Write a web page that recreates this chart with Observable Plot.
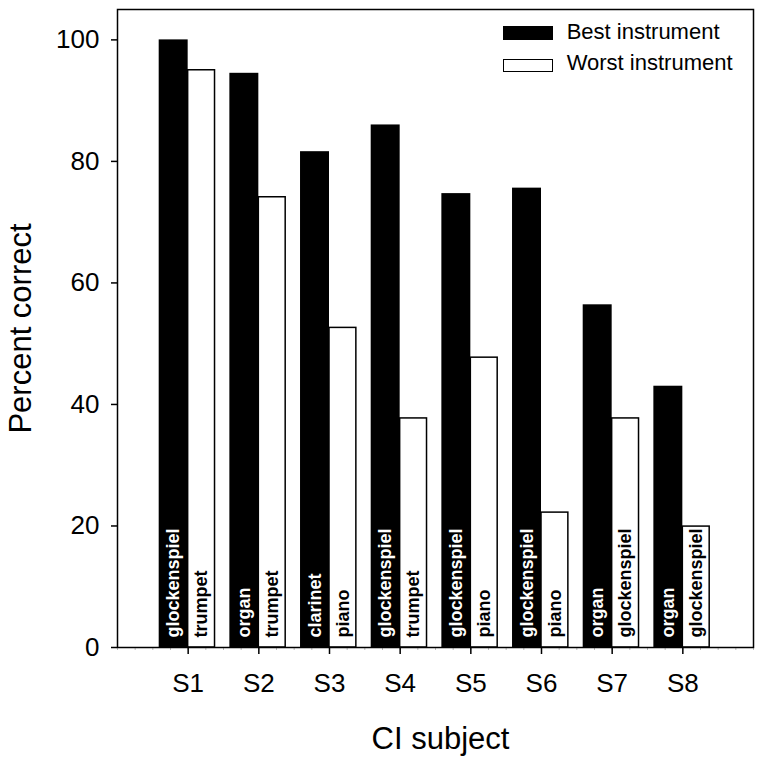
<!DOCTYPE html>
<html><head><meta charset="utf-8">
<script src="https://cdn.jsdelivr.net/npm/d3@7"></script>
<script src="https://cdn.jsdelivr.net/npm/@observablehq/plot@0.6"></script>
<style>
body{margin:0;background:#fff;}
#wrap{position:relative;width:762px;height:763px;font-family:"Liberation Sans",Arial,sans-serif;}
.sw{position:absolute;box-sizing:border-box;}
.lt{position:absolute;font-size:22px;line-height:22px;white-space:nowrap;color:#000;}
</style></head><body><div id="wrap"></div>
<script>
const subjects = ["S1","S2","S3","S4","S5","S6","S7","S8"];
const bestScores = [100, 94.5, 81.6, 86.0, 74.7, 75.6, 56.4, 43.0];
const worstScores = [95.0, 74.1, 52.6, 37.7, 47.7, 22.2, 37.7, 19.9];
const bestInstruments = ["glockenspiel","organ","clarinet","glockenspiel","glockenspiel","glockenspiel","organ","organ"];
const worstInstruments = ["trumpet","trumpet","piano","trumpet","piano","piano","glockenspiel","glockenspiel"];
const seriesNames = ["Best instrument","Worst instrument"];
const yTicks = [0,20,40,60,80,100];
const xTitle = "CI subject";
const yTitle = "Percent correct";

const bestW = 0.41, worstW = 0.38;
const best = subjects.map((s,i)=>({pos:i+1, value:bestScores[i], instrument:bestInstruments[i]}));
const worst = subjects.map((s,i)=>({pos:i+1, value:worstScores[i], instrument:worstInstruments[i]}));
const minorTicks = d3.range(0, 9.001, 0.25);

const chart = Plot.plot({
  width: 762, height: 763,
  marginLeft: 117, marginRight: 9, marginTop: 9, marginBottom: 116,
  style: {fontFamily: "'Liberation Sans', Arial, sans-serif", background: "white", color: "black"},
  x: {domain: [0, 9]},
  y: {domain: [0, 105]},
  marks: [
    Plot.rectY(best, {x1: d => d.pos - bestW, x2: "pos", y1: 0, y2: "value", fill: "black"}),
    Plot.rectY(worst, {x1: "pos", x2: d => d.pos + worstW, y1: 0, y2: "value", fill: "white", stroke: "black", strokeWidth: 1.5}),
    Plot.text(best, {x: d => d.pos - bestW/2, y: 0, text: "instrument", rotate: -90, textAnchor: "start", dy: -10, fill: "white", fontWeight: "bold", fontSize: 18}),
    Plot.text(worst, {x: d => d.pos + worstW/2, y: 0, text: "instrument", rotate: -90, textAnchor: "start", dy: -10, fill: "black", fontWeight: "bold", fontSize: 18}),
    Plot.axisX(minorTicks, {tickSize: 3, tickFormat: () => "", label: null, stroke: "#bbb", strokeWidth: 1}),
    Plot.axisY(yTicks, {tickSize: 6, tickPadding: 12, fontSize: 26, label: null, strokeWidth: 1.5}),
    Plot.axisX(subjects.map((_, i) => i + 1), {tickFormat: d => subjects[d - 1], tickSize: 7, tickPadding: 19, fontSize: 26, label: null, strokeWidth: 1.5}),
    Plot.frame({strokeWidth: 1.5}),
    Plot.text([yTitle], {text: d => d, frameAnchor: "left", textAnchor: "middle", rotate: -90, lineAnchor: "top", dx: -109, fontSize: 31}),
    Plot.text([xTitle], {text: d => d, frameAnchor: "bottom", textAnchor: "middle", lineAnchor: "bottom", dx: 5, dy: 101.5, fontSize: 31})
  ]
});
const wrap = document.getElementById("wrap");
wrap.appendChild(chart);

const legend = [
  {name: seriesNames[0], fill: "black", border: "none", top: 26, h: 14, textTop: 21.4},
  {name: seriesNames[1], fill: "white", border: "1.5px solid black", top: 58.5, h: 13.5, textTop: 52.1}
];
legend.forEach(l => {
  const sw = document.createElement("div");
  sw.className = "sw";
  Object.assign(sw.style, {left: "503px", top: l.top + "px", width: "50px", height: l.h + "px", background: l.fill, border: l.border});
  wrap.appendChild(sw);
  const t = document.createElement("div");
  t.className = "lt";
  t.textContent = l.name;
  Object.assign(t.style, {left: "566.7px", top: l.textTop + "px"});
  wrap.appendChild(t);
});
</script></body></html>
